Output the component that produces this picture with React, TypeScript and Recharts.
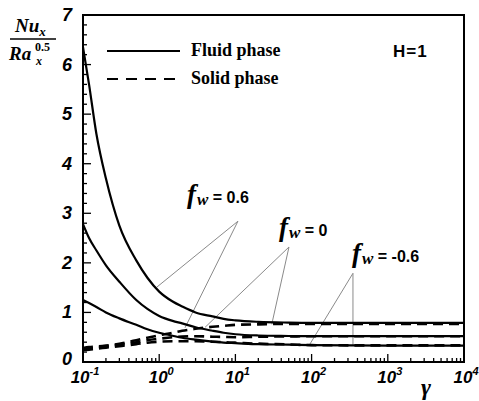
import React from 'react';
import {
  LineChart,
  Line,
  XAxis,
  YAxis,
  ReferenceArea,
  ReferenceLine,
} from 'recharts';

// gamma grid shared by all curves
const gamma = [0.1, 0.12, 0.15, 0.2, 0.3, 0.5, 0.7, 1, 1.5, 2, 3, 5, 7, 10, 20, 50, 100, 1000, 10000];

// fluid phase (solid lines)
const fluidPos = [6.35, 5.6, 4.6, 3.7, 2.75, 2.05, 1.7, 1.42, 1.22, 1.12, 1.0, 0.92, 0.87, 0.84, 0.81, 0.795, 0.79, 0.79, 0.79];
const fluidZero = [2.78, 2.5, 2.25, 1.95, 1.62, 1.25, 1.07, 0.93, 0.83, 0.78, 0.7, 0.63, 0.59, 0.56, 0.535, 0.525, 0.52, 0.52, 0.52];
const fluidNeg = [1.25, 1.19, 1.11, 1.0, 0.88, 0.75, 0.66, 0.59, 0.53, 0.49, 0.45, 0.41, 0.39, 0.38, 0.36, 0.35, 0.34, 0.33, 0.33];

// solid phase (dashed lines)
const solidPos = [0.28, 0.3, 0.31, 0.33, 0.37, 0.44, 0.49, 0.54, 0.59, 0.63, 0.67, 0.71, 0.73, 0.75, 0.76, 0.77, 0.77, 0.77, 0.77];
const solidZero = [0.26, 0.27, 0.29, 0.31, 0.35, 0.4, 0.44, 0.47, 0.5, 0.515, 0.52, 0.51, 0.505, 0.5, 0.51, 0.515, 0.52, 0.52, 0.52];
const solidNeg = [0.24, 0.25, 0.27, 0.29, 0.32, 0.36, 0.39, 0.41, 0.42, 0.42, 0.42, 0.41, 0.4, 0.39, 0.37, 0.355, 0.34, 0.335, 0.335];

const decades = [0.1, 1, 10, 100, 1000];
const xMajor = [0.1, 1, 10, 100, 1000, 10000];
const yMajor = [0, 1, 2, 3, 4, 5, 6, 7];

// annotation leader lines: [vertex, end]
const leaders = [
  [{ x: 10.8, y: 2.84 }, { x: 0.93, y: 1.51 }],
  [{ x: 10.8, y: 2.84 }, { x: 2.18, y: 0.69 }],
  [{ x: 50.5, y: 2.32 }, { x: 4.0, y: 0.7 }],
  [{ x: 50.5, y: 2.32 }, { x: 30, y: 0.76 }],
  [{ x: 349, y: 1.79 }, { x: 95, y: 0.36 }],
  [{ x: 349, y: 1.79 }, { x: 349, y: 0.34 }],
];

const toPoints = (vals: number[]) => gamma.map((g, i) => ({ g, v: vals[i] }));

const xTicks = decades.flatMap((d) => [1, 2, 3, 4, 5, 6, 7, 8, 9].map((m) => +(d * m).toPrecision(3))).concat([10000]);
const yTicks = Array.from({ length: 36 }, (_, i) => +(i * 0.2).toFixed(1));

const tickFont = '"Liberation Sans", Arial, sans-serif';
const serif = '"Liberation Serif", "Times New Roman", serif';

const XTick = (props: any) => {
  const { x, y, payload } = props;
  const v = payload.value;
  const p = Math.round(Math.log10(v));
  const major = xMajor.some((m) => Math.abs(m - v) < 1e-9);
  return (
    <g>
      <line x1={x} x2={x} y1={y} y2={y - (major ? 8 : 4)} stroke="#000" strokeWidth={1.3} />
      {major && (
        <text x={x + 2} y={y + 21} textAnchor="middle" fontFamily={tickFont} fontWeight="bold" fontStyle="italic" fontSize={17} fill="#000">
          10
          <tspan dy={-8} fontSize={11}>{p}</tspan>
        </text>
      )}
    </g>
  );
};

const YTick = (props: any) => {
  const { x, y, payload } = props;
  const v = payload.value;
  const major = yMajor.includes(v);
  return (
    <g>
      <line x1={x} x2={x + (major ? 8 : 4)} y1={y} y2={y} stroke="#000" strokeWidth={1.3} />
      {major && (
        <text x={x - 11} y={y + (v === 0 ? 3 : 6)} textAnchor="end" fontFamily={tickFont} fontWeight="bold" fontStyle="italic" fontSize={18} fill="#000">
          {v}
        </text>
      )}
    </g>
  );
};

const FwLabel = ({ x, y, value }: { x: number; y: number; value: string }) => (
  <text x={x} y={y} fill="#000">
    <tspan fontFamily={serif} fontStyle="italic" fontWeight="bold" fontSize={27}>f</tspan>
    <tspan fontFamily={serif} fontStyle="italic" fontWeight="bold" fontSize={17} dy={2} dx={1}>w</tspan>
    <tspan fontFamily={tickFont} fontWeight="bold" fontSize={16} dy={-2}>{' = ' + value}</tspan>
  </text>
);

export default function App() {
  const solidLines = [fluidPos, fluidZero, fluidNeg];
  const dashedLines = [solidPos, solidZero, solidNeg];
  return (
    <div style={{ position: 'absolute', left: 0, top: 0, width: 479, height: 401, background: '#fff' }}>
      <LineChart width={479} height={401} margin={{ top: 15, right: 15, bottom: 14, left: 43 }}>
        <XAxis
          dataKey="g"
          type="number"
          scale="log"
          domain={[0.1, 10000]}
          ticks={xTicks}
          interval={0}
          height={25}
          axisLine={false}
          tickLine={false}
          tickSize={0}
          tickMargin={0}
          tick={<XTick />}
          allowDataOverflow
        />
        <YAxis
          type="number"
          domain={[0, 7]}
          ticks={yTicks}
          interval={0}
          width={40}
          axisLine={false}
          tickLine={false}
          tickSize={0}
          tickMargin={0}
          tick={<YTick />}
          allowDataOverflow
        />
        {leaders.map((seg, i) => (
          <ReferenceLine key={'l' + i} segment={seg} stroke="#8a8a8a" strokeWidth={1} />
        ))}
        {solidLines.map((vals, i) => (
          <Line
            key={'f' + i}
            data={toPoints(vals)}
            dataKey="v"
            type="monotone"
            stroke="#000"
            strokeWidth={2.2}
            dot={false}
            isAnimationActive={false}
          />
        ))}
        {dashedLines.map((vals, i) => (
          <Line
            key={'s' + i}
            data={toPoints(vals)}
            dataKey="v"
            type="monotone"
            stroke="#000"
            strokeWidth={2.6}
            strokeDasharray="10 6"
            dot={false}
            isAnimationActive={false}
          />
        ))}
        <ReferenceArea x1={0.1} x2={10000} y1={0} y2={7} fill="none" stroke="#000" strokeWidth={2} fillOpacity={0} />
      </LineChart>
      <svg width={479} height={401} style={{ position: 'absolute', left: 0, top: 0, pointerEvents: 'none' }}>
        {/* y axis title */}
        <text x={15} y={32} fontFamily={serif} fontStyle="italic" fontWeight="bold" fontSize={19} fill="#000">
          Nu<tspan fontSize={13} dy={4}>x</tspan>
        </text>
        <line x1={10} x2={56} y1={39} y2={39} stroke="#000" strokeWidth={1.3} />
        <text x={9} y={60} fontFamily={serif} fontStyle="italic" fontWeight="bold" fontSize={19} fill="#000">
          Ra
        </text>
        <text x={35} y={51} fontFamily={serif} fontWeight="bold" fontSize={12} fill="#000">0.5</text>
        <text x={36} y={65} fontFamily={serif} fontStyle="italic" fontWeight="bold" fontSize={12} fill="#000">x</text>
        {/* legend */}
        <line x1={107} x2={180} y1={51} y2={51} stroke="#000" strokeWidth={2.2} />
        <line x1={107} x2={180} y1={79} y2={79} stroke="#000" strokeWidth={2.2} strokeDasharray="11 8" />
        <text x={191} y={56} fontFamily={serif} fontWeight="bold" fontSize={18} fill="#000">Fluid phase</text>
        <text x={191} y={84} fontFamily={serif} fontWeight="bold" fontSize={18} fill="#000">Solid phase</text>
        <text x={393} y={57} fontFamily={tickFont} fontWeight="bold" fontSize={17} letterSpacing={1} fill="#000">H=1</text>
        {/* annotation labels */}
        <FwLabel x={187} y={203} value="0.6" />
        <FwLabel x={279} y={236} value="0" />
        <FwLabel x={352} y={262} value="-0.6" />
        {/* x axis title */}
        <text x={421} y={395} fontFamily={serif} fontStyle="italic" fontWeight="bold" fontSize={24} fill="#000">γ</text>
      </svg>
    </div>
  );
}
